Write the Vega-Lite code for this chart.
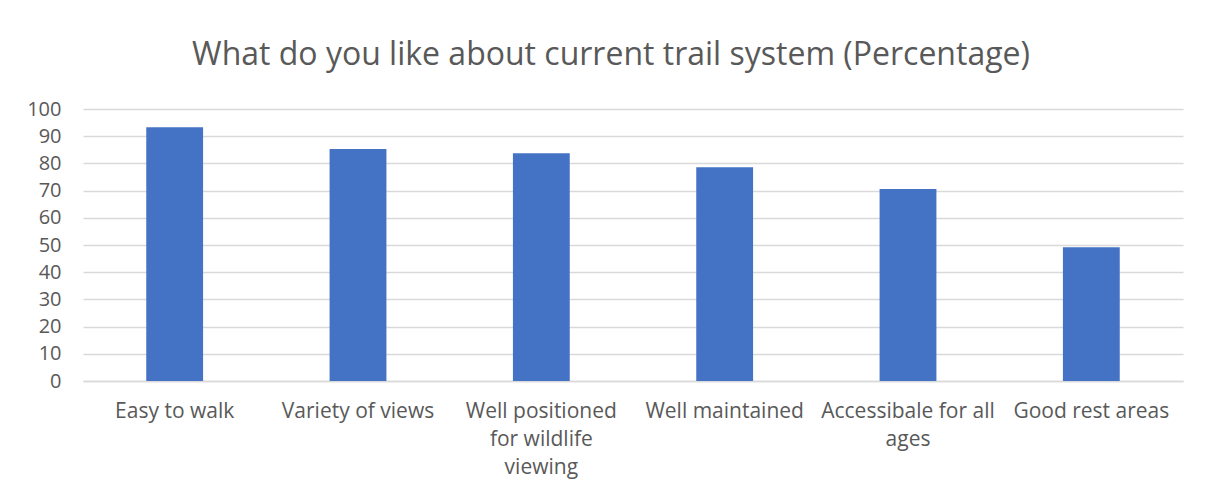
{
  "$schema": "https://vega.github.io/schema/vega-lite/v6.json",
  "autosize": {"type": "none"},
  "width": 1100,
  "height": 272,
  "padding": {"left": 83, "top": 109, "right": 22, "bottom": 112},
  "background": "white",
  "title": {
    "text": "What do you like about current trail system (Percentage)",
    "font": "Open Sans",
    "fontSize": 32,
    "fontWeight": "normal",
    "color": "#595959",
    "anchor": "middle",
    "dx": -22,
    "offset": 27
  },
  "data": {
    "values": [
      {"category": "Easy to walk", "value": 93.3},
      {"category": "Variety of views", "value": 85.3},
      {"category": "Well positioned|for wildlife|viewing", "value": 83.7},
      {"category": "Well maintained", "value": 78.6},
      {"category": "Accessibale for all|ages", "value": 70.6},
      {"category": "Good rest areas", "value": 49.2}
    ]
  },
  "mark": {"type": "bar", "color": "#4472C4"},
  "encoding": {
    "x": {
      "field": "category",
      "type": "nominal",
      "sort": null,
      "scale": {"paddingInner": 0.69, "paddingOuter": 0.345},
      "axis": {
        "title": null,
        "labelAngle": 0,
        "labelExpr": "split(datum.label, '|')",
        "labelFont": "Open Sans",
        "labelFontSize": 21,
        "labelColor": "#595959",
        "labelLineHeight": 28,
        "labelPadding": 19,
        "ticks": false,
        "domainColor": "#d9d9d9",
        "domainWidth": 1.5,
        "labelBaseline": "top",
        "labelLimit": 200
      }
    },
    "y": {
      "field": "value",
      "type": "quantitative",
      "scale": {"domain": [0, 100]},
      "axis": {
        "title": null,
        "values": [0, 10, 20, 30, 40, 50, 60, 70, 80, 90, 100],
        "domain": false,
        "ticks": false,
        "labelFont": "Open Sans",
        "labelFontSize": 20,
        "labelColor": "#595959",
        "labelPadding": 22,
        "gridColor": "#d9d9d9",
        "gridWidth": 1.5
      }
    }
  },
  "config": {"view": {"stroke": null}}
}
